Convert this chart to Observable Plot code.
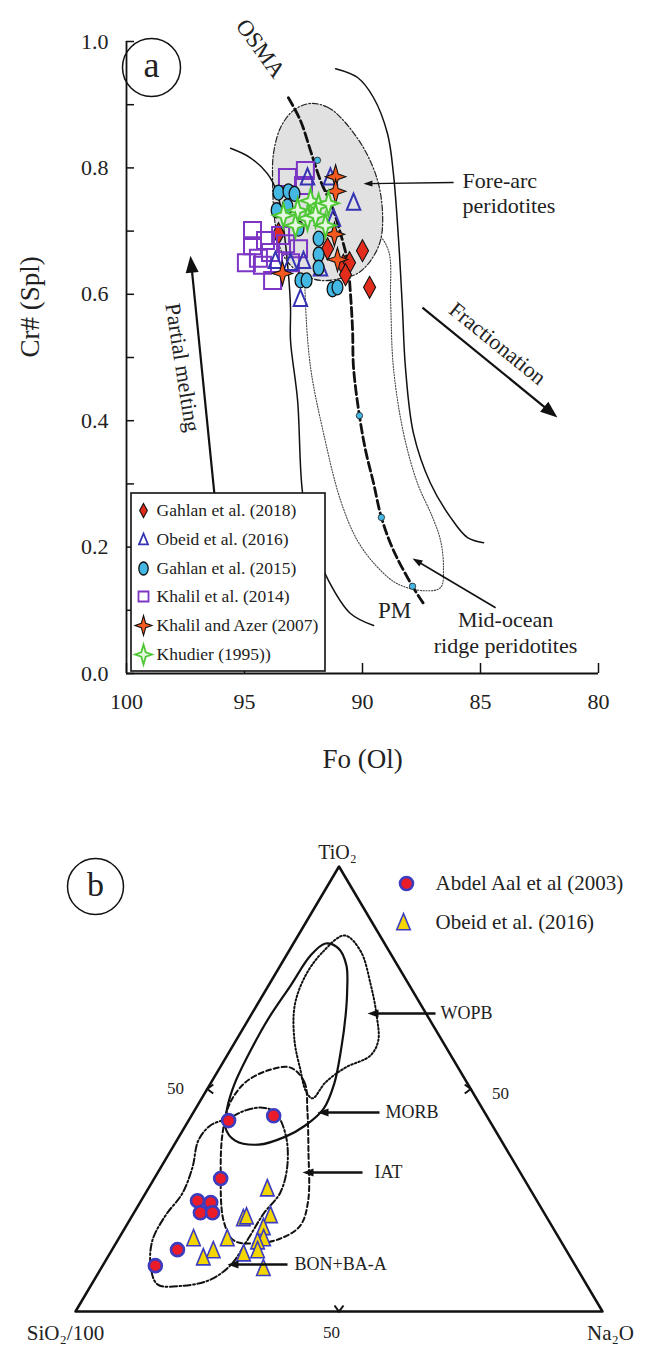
<!DOCTYPE html>
<html>
<head>
<meta charset="utf-8">
<script src="https://cdn.jsdelivr.net/npm/d3@7"></script>
<script src="https://cdn.jsdelivr.net/npm/@observablehq/plot@0.6"></script>
<style>
html,body{margin:0;padding:0;background:#fff;}
#chart svg{display:block;}
</style>
</head>
<body>
<div id="chart"></div>
<script>
// ================= DATA: panel (a)  Fo (Ol) vs Cr# (Spl) =================
const seriesA = ["Gahlan et al. (2018)", "Obeid et al. (2016)", "Gahlan et al. (2015)",
                 "Khalil et al. (2014)", "Khalil and Azer (2007)", "Khudier (1995))"];
// each point: [Fo, Cr#]
const gahlan2018 = [[93.56,0.696],[91.48,0.672],[90.81,0.646],[90.55,0.650],[90.72,0.631],[90.00,0.669],[89.70,0.611]];
const obeid2016a = [[92.33,0.785],[91.36,0.785],[90.38,0.745],[92.63,0.593],[93.69,0.653],[92.50,0.653],[93.05,0.650],[91.78,0.641],[91.23,0.720]];
const gahlan2015 = [[93.56,0.761],[93.14,0.763],[92.88,0.759],[93.64,0.733],[93.18,0.739],[92.71,0.704],[91.86,0.688],[91.86,0.663],[91.86,0.642],[92.63,0.622],[92.37,0.622],[91.27,0.608],[91.06,0.611]];
const khalil2014 = [[92.42,0.796],[93.18,0.785],[92.50,0.772],[94.66,0.701],[94.66,0.677],[94.41,0.657],[93.90,0.666],[93.26,0.680],[92.71,0.672],[93.81,0.622],[94.24,0.646],[93.05,0.650],[93.47,0.693],[94.92,0.650],[94.11,0.685]];
const khalilAzer2007 = [[91.14,0.786],[91.14,0.763],[91.19,0.695],[91.06,0.655],[93.39,0.633]];
const khudier1995 = [[93.35,0.725],[92.75,0.733],[92.20,0.748],[91.86,0.740],[91.44,0.744],[92.33,0.720],[91.57,0.709],[92.84,0.709],[91.99,0.725]];

// reference fields / trends  [Fo, Cr#]
const osmaTrend = [[93.14,0.911],[92.63,0.875],[92.20,0.827],[91.78,0.780],[91.27,0.737],[90.93,0.696],[90.64,0.653],[90.51,0.601],[90.42,0.543],[90.38,0.484],[90.13,0.408],[89.87,0.353],[89.53,0.301],[89.20,0.247],[88.69,0.195],[87.88,0.138],[87.42,0.111]];
const osmaMarks = [[91.91,0.812],[90.13,0.408],[89.20,0.247],[87.88,0.138]];
const leftLimit = [[95.59,0.831],[94.75,0.816],[94.03,0.791],[93.60,0.759],[93.35,0.706],[93.14,0.633],[93.05,0.579],[93.05,0.527],[92.75,0.432],[92.54,0.286],[92.12,0.210],[91.44,0.147],[90.51,0.095],[89.53,0.076]];
const rightLimit = [[91.14,0.957],[90.21,0.943],[89.53,0.911],[88.94,0.854],[88.69,0.791],[88.47,0.685],[88.31,0.579],[88.18,0.484],[87.84,0.380],[87.12,0.301],[86.27,0.247],[85.55,0.215],[84.87,0.207]];
const foreArcField = [[92.20,0.902],[91.48,0.896],[90.93,0.880],[89.96,0.832],[89.36,0.780],[89.15,0.728],[89.24,0.685],[89.66,0.653],[90.21,0.633],[90.93,0.625],[91.78,0.622],[92.63,0.633],[93.35,0.661],[93.69,0.709],[93.81,0.780],[93.77,0.823],[93.47,0.864],[92.92,0.891]];
const morField = [[92.42,0.638],[92.42,0.590],[92.20,0.484],[91.65,0.380],[90.93,0.274],[90.21,0.210],[89.36,0.168],[88.52,0.142],[87.42,0.131],[86.69,0.136],[86.57,0.168],[86.69,0.210],[87.03,0.247],[87.67,0.301],[88.26,0.380],[88.69,0.484],[88.81,0.590],[88.90,0.669],[89.45,0.698],[90.93,0.709],[92.20,0.685]];

const yTickValues = [0,0.1,0.2,0.3,0.4,0.5,0.6,0.7,0.8,0.9,1.0];
const yTickLabels = [0,0.2,0.4,0.6,0.8,1.0];
const xTickValues = [100,95,90,85,80];

// ================= DATA: panel (b)  TiO2 - Na2O - SiO2/100 ternary =================
const seriesB = ["Abdel Aal et al (2003)", "Obeid et al. (2016)"];
// each point: [TiO2, Na2O]  (SiO2/100 = 100 - TiO2 - Na2O)
const abdelAal2003 = [[42.9,7.6],[44.0,15.6],[29.9,12.6],[24.9,10.7],[24.5,13.4],[22.2,12.6],[22.2,14.9],[13.9,12.4],[10.3,10.0]];
const obeid2016b = [[27.6,22.6],[20.9,21.4],[21.3,21.8],[21.6,26.2],[18.9,26.2],[16.4,27.5],[15.7,26.7],[16.4,20.6],[16.4,14.2],[13.7,19.3],[12.1,18.2],[13.0,25.4],[13.7,27.7],[9.7,30.8]];
const wopbField = [[84.5,8.8],[81.1,13.5],[73.3,19.4],[66.5,23.9],[60.9,27.0],[57.5,27.2],[54.8,23.8],[51.5,21.7],[47.9,21.0],[49.7,18.8],[54.2,15.6],[60.9,11.1],[68.8,7.2],[75.5,5.9],[80.7,6.5]];
const morbField = [[82.7,6.1],[81.6,9.1],[77.8,12.5],[72.1,15.5],[66.5,18.0],[59.3,20.8],[51.2,23.5],[45.6,24.3],[41.8,22.7],[39.3,20.2],[37.5,16.0],[38.4,11.1],[41.3,7.8],[45.8,5.9],[51.2,4.6],[58.7,3.9],[65.8,3.7],[73.3,4.2],[80.0,4.6]];
const iatField = [[54.8,13.4],[51.5,17.7],[45.2,21.4],[36.2,26.1],[24.9,31.7],[19.3,33.0],[16.4,30.7],[15.3,26.5],[16.0,22.0],[20.4,17.9],[31.7,11.7],[40.0,7.9],[46.7,5.9],[51.5,6.5],[54.2,9.5]];
const bonField = [[43.4,7.3],[45.2,9.7],[45.8,12.6],[44.7,15.6],[39.6,20.1],[32.8,23.8],[26.7,25.5],[22.0,24.7],[16.4,24.6],[10.3,24.2],[7.0,21.8],[5.8,17.6],[6.1,12.5],[10.3,9.1],[16.0,6.6],[21.6,6.3],[26.5,7.0],[32.4,6.0],[38.4,4.1],[41.8,4.7]];
const ternaryCorners = [[0,0],[0,100],[100,0]]; // SiO2/100, Na2O, TiO2 apices
const edgeTicks = [[50,0],[50,50],[0,50]];        // 50 % marks

// ================= HELPERS =================
const FONT = "'Liberation Serif','Times New Roman',Times,serif";
const INK = "#111";

function shape(fn){ return {draw(ctx,size){ fn(ctx, Math.sqrt(size/Math.PI)); }}; }
const diamondSym = shape((c,r)=>{c.moveTo(0,-r);c.lineTo(r*0.55,0);c.lineTo(0,r);c.lineTo(-r*0.55,0);c.closePath();});
const ellipseSym = shape((c,r)=>{const rx=r*0.72, ry=r, k=0.5523;
  c.moveTo(0,-ry); c.bezierCurveTo(k*rx,-ry,rx,-k*ry,rx,0); c.bezierCurveTo(rx,k*ry,k*rx,ry,0,ry);
  c.bezierCurveTo(-k*rx,ry,-rx,k*ry,-rx,0); c.bezierCurveTo(-rx,-k*ry,-k*rx,-ry,0,-ry); c.closePath();});
const star4Sym = shape((c,r)=>{const q=r*0.22; c.moveTo(0,-r);c.lineTo(q,-q);c.lineTo(r*0.85,0);c.lineTo(q,q);c.lineTo(0,r);c.lineTo(-q,q);c.lineTo(-r*0.85,0);c.lineTo(-q,-q);c.closePath();});
const squareSym = shape((c,r)=>{c.moveTo(-r,-r);c.lineTo(r,-r);c.lineTo(r,r);c.lineTo(-r,r);c.closePath();});
const triangleSym = shape((c,r)=>{c.moveTo(0,-r);c.lineTo(r*0.75,r*0.8);c.lineTo(-r*0.75,r*0.8);c.closePath();});
function rot(P, deg){const a=deg*Math.PI/180, ca=Math.cos(a), sa=Math.sin(a); return P.map(([x,y])=>[x*ca-y*sa, x*sa+y*ca]);}
function headSym(deg, len, wid){ const P=rot([[0,0],[-len,-wid/2],[-len,wid/2]], deg);
  return {draw(c){c.moveTo(...P[0]);c.lineTo(...P[1]);c.lineTo(...P[2]);c.closePath();}}; }
function chevronSym(deg, len, wid){ const P=rot([[-len,-wid/2],[0,0],[-len,wid/2]], deg);
  return {draw(c){c.moveTo(...P[0]);c.lineTo(...P[1]);c.lineTo(...P[2]);}}; }
const pts = a => a.map(([x,y]) => ({x, y}));

function arrowMarks(list, sx, sy){
  return list.flatMap(a=>{
    const X1=sx(a.from[0]), Y1=sy(a.from[1]), X2=sx(a.to[0]), Y2=sy(a.to[1]);
    const ang=Math.atan2(Y2-Y1, X2-X1);
    const ex=sx.invert(X2-Math.cos(ang)*a.len*0.7), ey=sy.invert(Y2-Math.sin(ang)*a.len*0.7);
    return [
      Plot.link([a], {x1:()=>a.from[0], y1:()=>a.from[1], x2:()=>ex, y2:()=>ey, stroke:INK, strokeWidth:a.sw}),
      Plot.dot([a], {x:()=>a.to[0], y:()=>a.to[1], r:4, symbol:headSym(ang*180/Math.PI, a.len, a.wid), fill:INK, stroke:"none"})
    ];
  });
}

// ================= PANEL (a) =================
const LA = {width:645, height:800, left:126, right:47, top:41, bottom:127};
const sxA = d3.scaleLinear([100,80], [LA.left, LA.width-LA.right]);
const syA = d3.scaleLinear([0,1], [LA.height-LA.bottom, LA.top]);
const pA = (px,py) => [sxA.invert(px), syA.invert(py)];

const styleA = {
  "Gahlan et al. (2018)":   {data:gahlan2018,     symbol:diamondSym,  fill:"#e22d1c", stroke:INK,       sw:1.1, r:11,  lr:7},
  "Khalil et al. (2014)":   {data:khalil2014,     symbol:squareSym,   fill:"none",    stroke:"#7c35c4", sw:2,   r:8.5, lr:5},
  "Obeid et al. (2016)":    {data:obeid2016a,     symbol:triangleSym, fill:"none",    stroke:"#3434b4", sw:2,   r:9,   lr:6},
  "Gahlan et al. (2015)":   {data:gahlan2015,     symbol:ellipseSym,  fill:"#45b7e3", stroke:INK,       sw:1.3, r:7.5, lr:6.5},
  "Khalil and Azer (2007)": {data:khalilAzer2007, symbol:star4Sym,    fill:"#f45a1f", stroke:INK,       sw:1.1, r:12,  lr:10},
  "Khudier (1995))":        {data:khudier1995,    symbol:star4Sym,    fill:"#e6f7df", stroke:"#4fc836", sw:2,   r:12,  lr:10}
};
const drawOrderA = ["Gahlan et al. (2018)","Khalil et al. (2014)","Obeid et al. (2016)","Gahlan et al. (2015)","Khalil and Azer (2007)","Khudier (1995))"];

const arrowsA = [
  {from:[95.68,0.063], to:[97.29,0.661], len:17, wid:13, sw:2.2},   // partial melting
  {from:[87.46,0.579], to:[81.74,0.405], len:17, wid:13, sw:2.2},   // fractionation
  {from:[86.14,0.777], to:[89.96,0.775], len:9,  wid:6,  sw:1.4},   // fore-arc
  {from:[84.36,0.104], to:[87.88,0.182], len:10, wid:7,  sw:1.6}    // mid-ocean ridge
];
const labelsA = [
  {t:"OSMA", x:94.32, y:0.989, rotate:54, size:23, anchor:"middle"},
  {t:"Fore-arc", x:85.76, y:0.780, rotate:0, size:22, anchor:"start"},
  {t:"peridotites", x:85.76, y:0.740, rotate:0, size:22, anchor:"start"},
  {t:"Fractionation", x:84.28, y:0.522, rotate:39, size:22, anchor:"middle"},
  {t:"Partial melting", x:97.63, y:0.484, rotate:81, size:22, anchor:"middle"},
  {t:"Mid-ocean", x:83.94, y:0.084, rotate:0, size:22, anchor:"middle"},
  {t:"ridge peridotites", x:83.94, y:0.044, rotate:0, size:22, anchor:"middle"},
  {t:"PM", x:88.64, y:0.100, rotate:0, size:23, anchor:"middle"}
];

const legBox = {x1:131, y1:493, x2:325, y2:671};
const legRowsY = [510,539,568,596,625,654];
const legendA = seriesA.map((name,i)=>{ const [sx,sy]=pA(143, legRowsY[i]); const [tx]=pA(156,0); return {name, sx, sy, tx, s:styleA[name]}; });
const [lbx1, lby1] = pA(legBox.x1, legBox.y2), [lbx2, lby2] = pA(legBox.x2, legBox.y1);
const [aCx, aCy] = pA(151, 67);

const marksA = [
  Plot.line(pts(morField), {x:"x", y:"y", curve:"catmull-rom-closed", stroke:"#444", strokeWidth:1.1, strokeDasharray:"1.2,1.6"}),
  Plot.line(pts(foreArcField), {x:"x", y:"y", curve:"catmull-rom-closed", fill:"#e1e1e1", stroke:"#222", strokeWidth:1.2, strokeDasharray:"6,2,1.5,2"}),
  Plot.line(pts(leftLimit), {x:"x", y:"y", curve:"catmull-rom", stroke:INK, strokeWidth:1.5}),
  Plot.line(pts(rightLimit), {x:"x", y:"y", curve:"catmull-rom", stroke:INK, strokeWidth:1.5}),
  Plot.line(pts(osmaTrend), {x:"x", y:"y", curve:"catmull-rom", stroke:INK, strokeWidth:2.8, strokeDasharray:"9,4"}),
  Plot.dot(pts(osmaMarks), {x:"x", y:"y", r:3.2, fill:"#45b7e3", stroke:"#222", strokeWidth:0.8}),
  ...drawOrderA.map(name=>{const s=styleA[name];
    return Plot.dot(pts(s.data), {x:"x", y:"y", r:s.r, symbol:s.symbol, fill:s.fill, stroke:s.stroke, strokeWidth:s.sw});}),
  Plot.ruleX([100], {stroke:INK, strokeWidth:1.8}),
  Plot.ruleY([0], {stroke:INK, strokeWidth:1.8}),
  Plot.tickY(yTickValues, {y:d=>d, insetRight:(LA.width-LA.left-LA.right)-8, stroke:INK, strokeWidth:1.5}),
  Plot.tickX(xTickValues, {x:d=>d, insetTop:(LA.height-LA.top-LA.bottom)-10, stroke:INK, strokeWidth:1.5}),
  Plot.axisY({ticks:yTickLabels, tickSize:0, tickPadding:18, tickFormat:d=>d.toFixed(1), fontSize:22, label:null, fill:"#222"}),
  Plot.axisX({ticks:xTickValues, tickSize:0, tickPadding:20, tickFormat:d=>String(d), fontSize:22, label:null, fill:"#222"}),
  Plot.text(["Cr# (Spl)"], {frameAnchor:"left", dx:-96, rotate:-90, fontSize:27, fill:"#222"}),
  Plot.text(["Fo (Ol)"], {frameAnchor:"bottom", dy:94, fontSize:27, fill:"#222"}),
  ...arrowMarks(arrowsA, sxA, syA),
  ...labelsA.map(l=>Plot.text([l], {x:()=>l.x, y:()=>l.y, text:()=>l.t, rotate:l.rotate, fontSize:l.size, textAnchor:l.anchor, fill:"#222"})),
  Plot.rect([0], {x1:()=>lbx1, x2:()=>lbx2, y1:()=>lby1, y2:()=>lby2, fill:"white", stroke:INK, strokeWidth:1.6}),
  ...legendA.map(d=>Plot.dot([d], {x:"sx", y:"sy", r:d.s.lr, symbol:d.s.symbol, fill:d.s.fill, stroke:d.s.stroke, strokeWidth:Math.min(d.s.sw,1.8)})),
  Plot.text(legendA, {x:"tx", y:"sy", text:"name", textAnchor:"start", fontSize:17.5, fill:"#222"}),
  Plot.dot([0], {x:()=>aCx, y:()=>aCy, r:29, fill:"none", stroke:INK, strokeWidth:1.5}),
  Plot.text(["a"], {x:()=>aCx, y:()=>aCy, dy:-2, fontSize:36, fill:"#222"})
];

const plotA = Plot.plot({
  width:LA.width, height:LA.height,
  marginLeft:LA.left, marginRight:LA.right, marginTop:LA.top, marginBottom:LA.bottom,
  x:{domain:[100,80]}, y:{domain:[0,1]},
  style:{fontFamily:FONT, background:"white", color:"#222", overflow:"visible"},
  marks:marksA
});

// ================= PANEL (b) =================
const LB = {width:645, height:545, left:75, right:43, top:66, bottom:34, offset:800};
const sxB = d3.scaleLinear([0,1], [LB.left, LB.width-LB.right]);
const syB = d3.scaleLinear([0,1], [LB.height-LB.bottom, LB.top]);
const pB = (px,py) => [sxB.invert(px), syB.invert(py-LB.offset)];
const tern = ([ti,na]) => ({x:(na + ti/2)/100, y:ti/100});

const arrowsB = [
  {from:pB(435,1013), to:pB(367,1013), len:11, wid:8, sw:2.4},
  {from:pB(379,1112), to:pB(317,1112), len:11, wid:8, sw:2.4},
  {from:pB(362,1172), to:pB(302,1172), len:11, wid:8, sw:2.4},
  {from:pB(287,1264), to:pB(227,1264), len:11, wid:8, sw:2.4}
];
const textB = [
  {t:"WOPB", p:pB(440,1013), size:18, anchor:"start"},
  {t:"MORB", p:pB(385,1112), size:18, anchor:"start"},
  {t:"IAT", p:pB(374,1172), size:18, anchor:"start"},
  {t:"BON+BA-A", p:pB(294,1264), size:18, anchor:"start"},
  {t:"TiO₂", p:pB(337,852), size:20, anchor:"middle"},
  {t:"SiO₂/100", p:pB(65,1333), size:21, anchor:"middle"},
  {t:"Na₂O", p:pB(610,1333), size:21, anchor:"middle"},
  {t:"50", p:pB(175,1088), size:17, anchor:"middle"},
  {t:"50", p:pB(500,1093), size:17, anchor:"middle"},
  {t:"50", p:pB(331,1332), size:17, anchor:"middle"},
  {t:seriesB[0], p:pB(435,883), size:21, anchor:"start"},
  {t:seriesB[1], p:pB(435,922), size:21, anchor:"start"}
];
const chevronDirs = [180, 0, 90];
const [bCx, bCy] = pB(95, 886);
const [lgDx, lgDy] = pB(406, 883), [lgTx, lgTy] = pB(403, 922);

const marksB = [
  Plot.line(pts(ternaryCorners.map(tern).map(d=>[d.x,d.y])), {x:"x", y:"y", curve:"linear-closed", stroke:INK, strokeWidth:2.5}),
  ...edgeTicks.map((e,i)=>{const d=tern(e); return Plot.dot([d], {x:"x", y:"y", r:4, symbol:chevronSym(chevronDirs[i], 6, 9), fill:"none", stroke:INK, strokeWidth:2});}),
  Plot.line(wopbField.map(tern), {x:"x", y:"y", curve:"catmull-rom-closed", stroke:INK, strokeWidth:2, strokeDasharray:"1.6,2.2"}),
  Plot.line(morbField.map(tern), {x:"x", y:"y", curve:"catmull-rom-closed", stroke:INK, strokeWidth:2.2}),
  Plot.line(iatField.map(tern), {x:"x", y:"y", curve:"catmull-rom-closed", stroke:INK, strokeWidth:2, strokeDasharray:"5,3"}),
  Plot.line(bonField.map(tern), {x:"x", y:"y", curve:"catmull-rom-closed", stroke:INK, strokeWidth:2, strokeDasharray:"7,2.5,1.8,2.5"}),
  Plot.dot(obeid2016b.map(tern), {x:"x", y:"y", r:9, symbol:triangleSym, fill:"#f3d500", stroke:"#3c3cc0", strokeWidth:1.6}),
  Plot.dot(abdelAal2003.map(tern), {x:"x", y:"y", r:6.5, fill:"#ea1c2a", stroke:"#3c3cc0", strokeWidth:2.6}),
  ...arrowMarks(arrowsB, sxB, syB),
  ...textB.map(l=>Plot.text([l], {x:()=>l.p[0], y:()=>l.p[1], text:()=>l.t, fontSize:l.size, textAnchor:l.anchor, fill:"#222"})),
  Plot.dot([0], {x:()=>lgDx, y:()=>lgDy, r:6.5, fill:"#ea1c2a", stroke:"#3c3cc0", strokeWidth:2.6}),
  Plot.dot([0], {x:()=>lgTx, y:()=>lgTy, r:9, symbol:triangleSym, fill:"#f3d500", stroke:"#3c3cc0", strokeWidth:1.6}),
  Plot.dot([0], {x:()=>bCx, y:()=>bCy, r:28, fill:"none", stroke:INK, strokeWidth:1.5}),
  Plot.text(["b"], {x:()=>bCx, y:()=>bCy, dy:-1, fontSize:34, fill:"#222"})
];

const plotB = Plot.plot({
  width:LB.width, height:LB.height,
  marginLeft:LB.left, marginRight:LB.right, marginTop:LB.top, marginBottom:LB.bottom,
  x:{domain:[0,1], axis:null}, y:{domain:[0,1], axis:null},
  style:{fontFamily:FONT, background:"white", color:"#222", overflow:"visible"},
  marks:marksB
});

document.getElementById("chart").append(plotA, plotB);
</script>
</body>
</html>
